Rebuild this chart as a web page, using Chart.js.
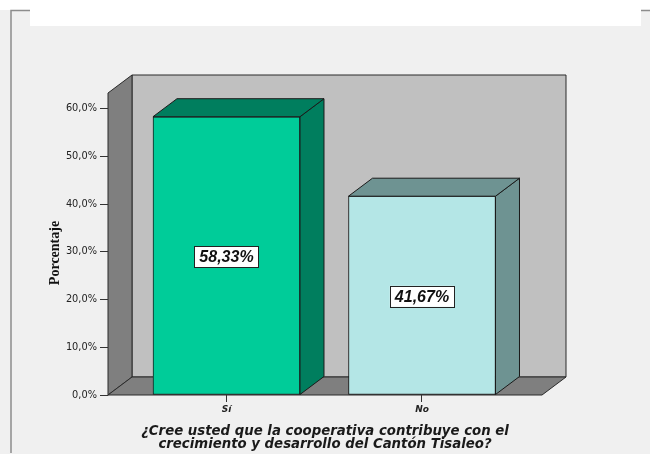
<!DOCTYPE html>
<html>
<head>
<meta charset="utf-8">
<script src="https://cdn.jsdelivr.net/npm/chart.js@4/dist/chart.umd.min.js"></script>
<style>
  html, body { margin: 0; padding: 0; background: #fff; }
</style>
</head>
<body>
<canvas id="chart" width="650" height="454"></canvas>
<script>
const categories = ['Sí', 'No'];
const percentages = [58.33, 41.67];
const yTitle = 'Porcentaje';
const xTitle = [
  '¿Cree usted que la cooperativa contribuye con el',
  'crecimiento y desarrollo del Cantón Tisaleo?'
];

const frontColors = ['#00cc99', '#b4e6e6'];
const shadeColors = ['#007e5e', '#6e9392'];

// depth of the fake 3d box
const DX = 24;
const DY = 18;

const fmtPct = (v) => v.toFixed(1).replace('.', ',') + '%';
const fmtLabel = (v) => v.toFixed(2).replace('.', ',') + '%';

const poly = (ctx, pts, fill, stroke) => {
  ctx.beginPath();
  ctx.moveTo(pts[0][0], pts[0][1]);
  pts.slice(1).forEach(p => ctx.lineTo(p[0], p[1]));
  ctx.closePath();
  ctx.fillStyle = fill;
  ctx.fill();
  ctx.strokeStyle = stroke;
  ctx.lineWidth = 1;
  ctx.stroke();
};

const box3d = {
  id: 'box3d',
  beforeDraw(chart) {
    const ctx = chart.ctx;
    const { left: l, right: r, top: t, bottom: b } = chart.chartArea;
    ctx.save();
    // page frame
    ctx.fillStyle = '#f0f0f0';
    ctx.fillRect(0, 0, chart.width, chart.height);
    ctx.fillStyle = '#ffffff';
    ctx.fillRect(0, 0, chart.width, 10);
    ctx.fillRect(30, 0, 611, 26);
    ctx.strokeStyle = '#8c8c8c';
    ctx.lineWidth = 1.5;
    ctx.beginPath();
    ctx.moveTo(11, 453);
    ctx.lineTo(11, 10.5);
    ctx.lineTo(30, 10.5);
    ctx.moveTo(641, 10.5);
    ctx.lineTo(650, 10.5);
    ctx.stroke();

    // walls
    poly(ctx, [[l + DX, t - DY], [r + DX, t - DY], [r + DX, b - DY], [l + DX, b - DY]], '#c0c0c0', '#2a2a2a');
    poly(ctx, [[l, t], [l + DX, t - DY], [l + DX, b - DY], [l, b]], '#7f7f7f', '#2a2a2a');
    poly(ctx, [[l, b], [l + DX, b - DY], [r + DX, b - DY], [r, b]], '#7f7f7f', '#2a2a2a');
    ctx.restore();
  },
  afterDatasetsDraw(chart) {
    const ctx = chart.ctx;
    ctx.save();
    chart.getDatasetMeta(0).data.forEach((bar, i) => {
      const x0 = bar.x - bar.width / 2;
      const x1 = bar.x + bar.width / 2;
      // side and top faces
      poly(ctx, [[x1, bar.y], [x1 + DX, bar.y - DY], [x1 + DX, bar.base - DY], [x1, bar.base]], shadeColors[i], '#1a1a1a');
      poly(ctx, [[x0, bar.y], [x0 + DX, bar.y - DY], [x1 + DX, bar.y - DY], [x1, bar.y]], shadeColors[i], '#1a1a1a');

      // value label in a white box
      const text = fmtLabel(percentages[i]);
      ctx.font = 'italic bold 16px "Liberation Sans", Arial, sans-serif';
      const w = ctx.measureText(text).width + 10;
      const h = 21;
      const cy = (bar.y + bar.base) / 2 + 1;
      ctx.fillStyle = '#ffffff';
      ctx.fillRect(bar.x - w / 2, cy - h / 2, w, h);
      ctx.strokeStyle = '#222';
      ctx.lineWidth = 1;
      ctx.strokeRect(Math.round(bar.x - w / 2) + 0.5, Math.round(cy - h / 2) + 0.5, Math.round(w), h);
      ctx.fillStyle = '#111';
      ctx.textAlign = 'center';
      ctx.textBaseline = 'middle';
      ctx.fillText(text, bar.x, cy + 1);
    });
    ctx.restore();
  },
  afterDraw(chart) {
    const ctx = chart.ctx;
    ctx.save();
    ctx.translate(55, 253);
    ctx.rotate(-Math.PI / 2);
    ctx.font = 'bold 14px "Liberation Serif", "Times New Roman", serif';
    ctx.fillStyle = '#111';
    ctx.textAlign = 'center';
    ctx.textBaseline = 'middle';
    ctx.fillText(yTitle, 0, 0);
    ctx.restore();
  }
};

const data = {
  datasets: [{
    data: categories.map((c, i) => ({ x: i, y: percentages[i] })),
    backgroundColor: frontColors,
    borderColor: '#1a1a1a',
    borderWidth: 1,
    borderSkipped: false,
    barThickness: 147
  }]
};

const config = {
  type: 'bar',
  data: data,
  options: {
    responsive: false,
    animation: false,
    layout: { padding: { top: 93, right: 108, bottom: 0, left: 0 } },
    plugins: {
      legend: { display: false },
      tooltip: { enabled: false }
    },
    scales: {
      x: {
        type: 'linear',
        offset: false,
        min: -0.6061,
        max: 1.6138,
        afterBuildTicks: (scale) => {
          scale.ticks = categories.map((c, i) => ({ value: i }));
        },
        afterFit: (scale) => { scale.height = 59; },
        ticks: {
          callback: (v) => categories[v],
          font: { family: '"DejaVu Sans", Verdana, sans-serif', size: 9, weight: 'bold', style: 'italic' },
          color: '#222',
          padding: 2,
          maxRotation: 0
        },
        grid: { offset: false, drawOnChartArea: false, tickLength: 7, color: '#333' },
        border: { display: false },
        title: {
          display: true,
          text: xTitle,
          color: '#1a1a1a',
          font: { family: '"DejaVu Sans", Verdana, sans-serif', size: 13.3, weight: 'bold', style: 'italic', lineHeight: 1 },
          padding: { top: 0, bottom: 3 }
        }
      },
      y: {
        min: 0,
        max: 63.3,
        afterBuildTicks: (scale) => {
          scale.ticks = scale.ticks.filter(t => Math.abs(t.value % 10) < 1e-6);
        },
        afterFit: (scale) => { scale.width = 108; },
        ticks: {
          stepSize: 10,
          callback: (v) => fmtPct(v),
          font: { family: '"DejaVu Sans", Verdana, sans-serif', size: 9.8 },
          color: '#222',
          padding: 3
        },
        grid: { drawOnChartArea: false, tickLength: 8, color: '#333' },
        border: { display: false }
      }
    }
  },
  plugins: [box3d]
};

window.onload = () => {
  new Chart(document.getElementById('chart'), config);
};
</script>
</body>
</html>
